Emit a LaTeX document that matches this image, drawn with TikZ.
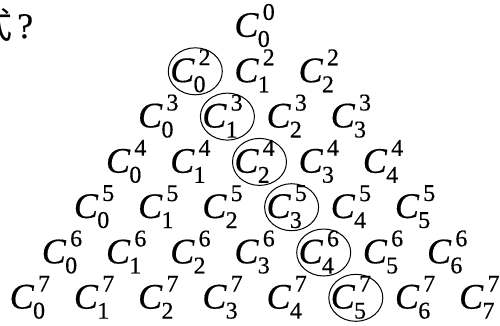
\documentclass[tikz,border=0pt]{standalone}
\usepackage{fontspec}
\setmainfont[FakeBold=0.4]{Liberation Serif}
\newfontfamily\cjk{Noto Sans CJK SC}
\usetikzlibrary{shapes.geometric}
\newcommand\scr{\fontsize{24}{24}\selectfont}
\newcommand\Cnk[2]{\textit{C}\kern-1pt\rlap{\raisebox{17pt}{\kern5pt\scr #1}}\raisebox{-10pt}{\scr #2}\kern5pt}
\begin{document}
\begin{tikzpicture}[x=1pt,y=1pt,
  entry/.style={inner sep=0pt, font=\fontsize{36}{40}\selectfont},
  ring/.style={draw, ellipse, line width=1pt, minimum width=54pt, minimum height=47pt, inner sep=0pt}]
\useasboundingbox (0,0) rectangle (500,-325);
\node[entry, anchor=base east] (q1) at (13,-38) {\cjk 式};
\node[entry, anchor=base west] (q2) at (17,-38) {?};
\node[entry] (c00) at (254.6,-25.5) {\Cnk{0}{0}};
\foreach \r in {1,...,6} {
  \pgfmathtruncatemacro\n{\r+1}
  \pgfmathtruncatemacro\m{\r+2}
  \foreach \k in {0,...,\n} {
    \node[entry] (c\n\k) at ({254.6+64.2*(\k-(\m-1)/2)}, {-(25.5+45.3*\r)}) {\Cnk{\n}{\k}};
  }
}
\foreach \n/\k in {2/0,3/1,4/2,5/3,6/4,7/5}
  \node[ring] (r\n\k) at ([xshift=4.9pt,yshift=-0.5pt]c\n\k.center) {};
\end{tikzpicture}
\end{document}
